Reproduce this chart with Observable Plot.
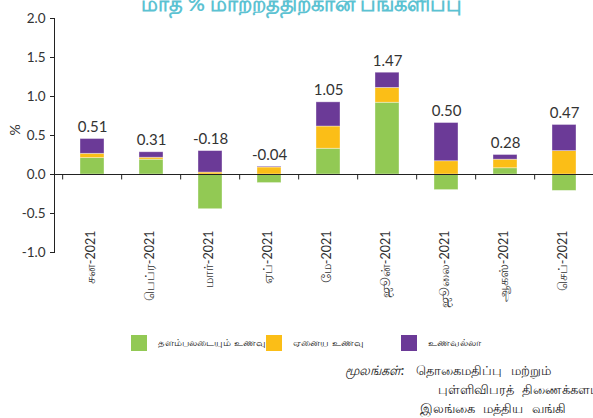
<!DOCTYPE html>
<html>
<head>
<meta charset="utf-8">
<script src="https://cdn.jsdelivr.net/npm/d3@7"></script>
<script src="https://cdn.jsdelivr.net/npm/@observablehq/plot@0.6"></script>
<style>
  html, body { margin: 0; padding: 0; background: #fff; }
  body { width: 593px; height: 418px; overflow: hidden; position: relative; font-family: Lato, "Noto Sans", sans-serif; }
  #title { position: absolute; top: -10px; left: 0; width: 593px; text-align: center; padding-left: 10px; box-sizing: border-box;
           color: #5cc2d2; font-weight: bold; font-size: 21px; white-space: nowrap; }
  #chart { position: absolute; top: 0; left: 0; }
  #legend { position: absolute; top: 335px; left: 131px; width: 400px; height: 18px; font-size: 10px; color: #222; white-space: nowrap; }
  #legend .sw { width: 16px; height: 16px; display: inline-block; margin-right: 11px; flex: none; }
  #legend .item { position: absolute; top: 0; display: flex; align-items: center; }
  #source { position: absolute; top: 361px; left: 345px; font-size: 13px; color: #222; line-height: 19px; white-space: nowrap; word-spacing: 5px; }
  #source i { margin-right: 12px; }
</style>
</head>
<body>
<div id="title"></div>
<div id="chart"></div>
<div id="legend"></div>
<div id="source"></div>
<script>
const titleText = "மாத % மாற்றத்திற்கான பங்களிப்பு";
const months = ["சன-2021", "பெப்ர-2021", "மார்-2021", "ஏப்-2021", "மே-2021", "ஜூன்-2021", "ஜூலை-2021", "ஆகஸ்-2021", "செப்-2021"];
const seriesNames = ["தளம்பலடையும் உணவு", "ஏனைய உணவு", "உணவல்லா"];
const seriesColors = ["#92c954", "#fbbe17", "#6b3a97"];
const volatileFood = [0.21, 0.19, -0.445, -0.11, 0.33, 0.92, -0.20, 0.08, -0.21];
const otherFood    = [0.055, 0.025, 0.025, 0.09, 0.285, 0.19, 0.17, 0.11, 0.30];
const nonFood      = [0.19, 0.07, 0.275, 0.01, 0.31, 0.195, 0.49, 0.06, 0.335];
const totalLabels  = ["0.51", "0.31", "-0.18", "-0.04", "1.05", "1.47", "0.50", "0.28", "0.47"];
const yTicks = [-1.0, -0.5, 0.0, 0.5, 1.0, 1.5, 2.0];
const yLabel = "%";
const sourceLabel = "மூலங்கள்:";
const sourceLines = ["தொகைமதிப்பு மற்றும்", "புள்ளிவிபரத் திணைக்களம்", "இலங்கை மத்திய வங்கி"];

document.getElementById("title").textContent = titleText;

const seriesValues = [volatileFood, otherFood, nonFood];
const rows = [];
seriesValues.forEach((vals, s) => vals.forEach((v, i) => rows.push({month: months[i], series: seriesNames[s], value: v})));
const tops = months.map((m, i) => ({month: m, top: d3.sum(seriesValues, vals => Math.max(0, vals[i])), label: totalLabels[i]}));

const width = 593, height = 315, marginLeft = 54, marginRight = 0;
const insetLeft = 5, insetRight = -3;
const step = (width - marginLeft - marginRight - insetLeft - insetRight) / months.length;

const chart = Plot.plot({
  width, height,
  marginTop: 18, marginBottom: 63, marginLeft, marginRight,
  style: {fontFamily: "Lato, 'Noto Sans', sans-serif", color: "#333", background: "transparent"},
  x: {domain: months, paddingInner: 0.6, paddingOuter: 0.3, insetLeft, insetRight, label: null},
  y: {domain: [-1, 2], label: null},
  color: {domain: seriesNames, range: seriesColors},
  marks: [
    Plot.barY(rows, {x: "month", y: "value", fill: "series", order: seriesNames, stroke: "white", strokeWidth: 0.8, strokeOpacity: 0.45}),
    Plot.ruleY([0], {stroke: "#222", strokeWidth: 1}),
    Plot.ruleX(months, {x: d => d, y1: 0, y2: -0.07, dx: -step / 2, stroke: "#222"}),
    Plot.ruleX(months.slice(-1), {x: d => d, y1: 0, y2: -0.07, dx: step / 2, stroke: "#222"}),
    Plot.frame({anchor: "left", stroke: "#222"}),
    Plot.axisY({ticks: yTicks, tickFormat: d => d.toFixed(1), tickSize: 4, tickPadding: 5, fontSize: 13.5, label: null, stroke: "#222"}),
    Plot.text([yLabel], {frameAnchor: "left", y: 0.5, dx: -39, rotate: -90, text: d => d, fontSize: 14, fill: "#333"}),
    Plot.axisX({anchor: "bottom", tickSize: 0, tickPadding: 0, tickRotate: -90, dy: -22, dx: -2, fontSize: 12.5, label: null, fill: "#333"}),
    Plot.text(tops, {x: "month", y: "top", text: "label", dy: -12, fontSize: 15, fill: "#333"})
  ]
});
document.getElementById("chart").appendChild(chart);

const legend = document.getElementById("legend");
seriesNames.forEach((n, i) => {
  const item = document.createElement("div");
  item.className = "item";
  item.style.left = (i * 135) + "px";
  const sw = document.createElement("span");
  sw.className = "sw";
  sw.style.background = seriesColors[i];
  const t = document.createElement("span");
  t.textContent = n;
  item.appendChild(sw); item.appendChild(t);
  legend.appendChild(item);
});

const src = document.getElementById("source");
src.innerHTML = "";
const l1 = document.createElement("div");
const it = document.createElement("i"); it.textContent = sourceLabel;
l1.appendChild(it); l1.appendChild(document.createTextNode(sourceLines[0]));
src.appendChild(l1);
const l2 = document.createElement("div"); l2.style.paddingLeft = "93px"; l2.textContent = sourceLines[1]; src.appendChild(l2);
const l3 = document.createElement("div"); l3.style.paddingLeft = "75px"; l3.textContent = sourceLines[2]; src.appendChild(l3);
</script>
</body>
</html>
